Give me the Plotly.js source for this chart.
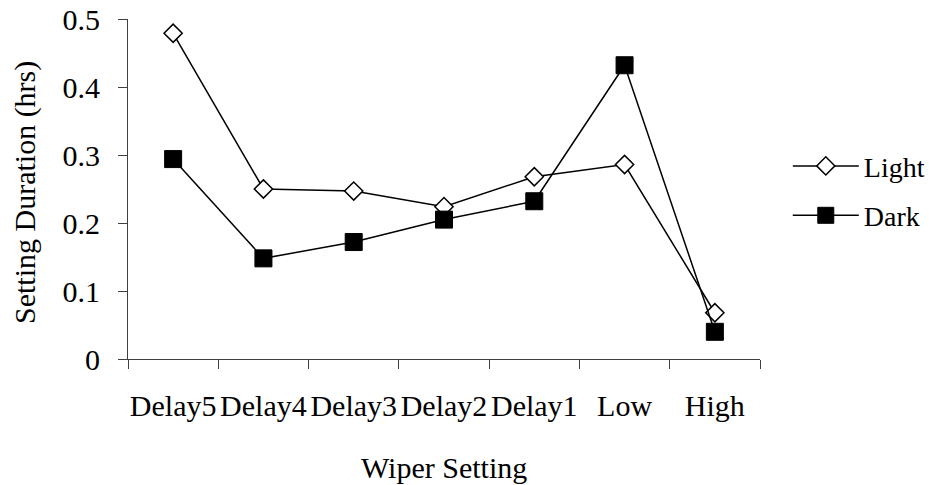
<!DOCTYPE html>
<html>
<head>
<meta charset="utf-8">
<script src="https://cdn.plot.ly/plotly-3.0.1.min.js"></script>
<style>
  html, body { margin: 0; padding: 0; background: #ffffff; }
  #chart { width: 929px; height: 485px; }
</style>
</head>
<body>
<div id="chart"></div>
<script>
const categories = ["Delay5", "Delay4", "Delay3", "Delay2", "Delay1", "Low", "High"];
const lightValues = [0.479, 0.250, 0.247, 0.224, 0.268, 0.286, 0.068];
const darkValues  = [0.294, 0.148, 0.172, 0.205, 0.232, 0.432, 0.040];
const yTickValues = [0, 0.1, 0.2, 0.3, 0.4, 0.5];
const yTickLabels = ["0", "0.1", "0.2", "0.3", "0.4", "0.5"];
const xTitle = "Wiper Setting";
const yTitle = "Setting Duration (hrs)";

const SERIF = "Liberation Serif, Times New Roman, serif";

const traces = [
  {
    type: "scatter", mode: "lines+markers", name: "Light",
    x: categories, y: lightValues, legendgroup: "a",
    line: { color: "#000000", width: 1.5 },
    marker: { symbol: "diamond", size: 14, color: "#ffffff", line: { color: "#000000", width: 1.5 } }
  },
  {
    type: "scatter", mode: "lines+markers", name: "Dark",
    x: categories, y: darkValues, legendgroup: "b",
    line: { color: "#000000", width: 1.5 },
    marker: { symbol: "square", size: 17, color: "#000000", line: { color: "#000000", width: 1 } }
  }
];

const layout = {
  width: 929, height: 485,
  margin: { l: 128, r: 169, t: 19, b: 126, pad: 0 },
  paper_bgcolor: "#ffffff", plot_bgcolor: "#ffffff",
  font: { family: SERIF, size: 30, color: "#000000" },
  showlegend: true,
  legend: {
    xref: "container", x: 0.848, xanchor: "left", y: 0.495, yanchor: "middle",
    font: { family: SERIF, size: 28, color: "#000000" },
    traceorder: "grouped", tracegroupgap: 10, itemwidth: 66,
    bgcolor: "rgba(0,0,0,0)", borderwidth: 0
  },
  xaxis: {
    type: "category", range: [-0.5, 6.5],
    showline: true, linecolor: "#404040", linewidth: 1,
    ticks: "outside", ticklen: 9, tickcolor: "#404040", tickwidth: 1,
    tickson: "boundaries", showgrid: false, zeroline: false, tickangle: 0,
    tickfont: { family: SERIF, size: 30, color: "#000000" },
    ticklabelstandoff: 20, fixedrange: true
  },
  yaxis: {
    range: [0, 0.5], tickvals: yTickValues, ticktext: yTickLabels,
    showline: true, linecolor: "#404040", linewidth: 1,
    ticks: "outside", ticklen: 9, tickcolor: "#404040", tickwidth: 1,
    showgrid: false, zeroline: false,
    tickfont: { family: SERIF, size: 30, color: "#000000" },
    ticklabelstandoff: 12, fixedrange: true
  },
  annotations: [
    {
      text: xTitle, xref: "paper", yref: "paper", x: 0.5, y: -0.32,
      xanchor: "center", yanchor: "middle", showarrow: false,
      font: { family: SERIF, size: 30, color: "#000000" }
    },
    {
      text: yTitle, xref: "paper", yref: "paper", x: -0.162, y: 0.49,
      xanchor: "center", yanchor: "middle", showarrow: false, textangle: -90,
      font: { family: SERIF, size: 30, color: "#000000" }
    }
  ]
};

Plotly.newPlot("chart", traces, layout, { displayModeBar: false, staticPlot: true });
</script>
</body>
</html>
